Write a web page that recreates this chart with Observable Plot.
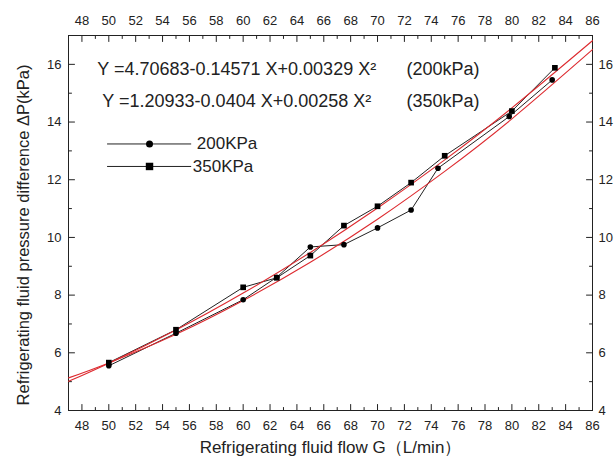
<!DOCTYPE html>
<html><head><meta charset="utf-8">
<script src="https://cdn.jsdelivr.net/npm/d3@7"></script>
<script src="https://cdn.jsdelivr.net/npm/@observablehq/plot@0.6"></script>
<style>
body{margin:0;background:#fff;}
#chart{font-family:"Liberation Sans",Arial,sans-serif;color:#222;}
</style></head><body><div id="chart"></div>
<script>
// ---- data ----
const seriesNames = ["200KPa", "350KPa"];
const flow200 = [50, 55, 60, 62.5, 65, 67.5, 70, 72.5, 74.5, 79.8, 83];
const dp200   = [5.55, 6.68, 7.84, 8.62, 9.67, 9.75, 10.33, 10.95, 12.4, 14.19, 15.46];
const flow350 = [50, 55, 60, 62.5, 65, 67.5, 70, 72.5, 75, 80, 83.2];
const dp350   = [5.66, 6.8, 8.27, 8.6, 9.37, 10.41, 11.08, 11.9, 12.83, 14.38, 15.88];
const fitFlow = [47, 50, 55, 60, 65, 70, 75, 80, 86];
const fit200  = [5.13, 5.65, 6.64, 7.81, 9.14, 10.63, 12.29, 14.11, 16.51];
const fit350  = [5.01, 5.64, 6.79, 8.07, 9.48, 11.02, 12.69, 14.49, 16.82];
const xMajor = [48, 50, 52, 54, 56, 58, 60, 62, 64, 66, 68, 70, 72, 74, 76, 78, 80, 82, 84, 86];
const xMinor = [49, 51, 53, 55, 57, 59, 61, 63, 65, 67, 69, 71, 73, 75, 77, 79, 81, 83, 85];
const yMajor = [4, 6, 8, 10, 12, 14, 16];
const yMinor = [5, 7, 9, 11, 13, 15];
const equations = ["Y =4.70683-0.14571 X+0.00329 X²", "Y =1.20933-0.0404 X+0.00258 X²"];
const eqTags = ["(200kPa)", "(350kPa)"];
const xTitle = "Refrigerating fluid flow G（L/min）";
const yTitle = "Refrigerating fluid pressure difference ΔP(kPa)";

// ---- layout (positions in chart units) ----
const eqPos = [{x: 49.14, y: 15.82}, {x: 49.52, y: 14.72}];
const tagX = 72.15;
const legendPos = {x1: 49.9, xm: 53.03, x2: 56.1, xt: [56.55, 56.25], y: [13.24, 12.46]};

const zip = (xs, ys) => xs.map((x, i) => ({x, y: ys[i]}));
const pts200 = zip(flow200, dp200);
const pts350 = zip(flow350, dp350);
const curve200 = zip(fitFlow, fit200);
const curve350 = zip(fitFlow, fit350);

const ink = "#222";
const red = "#dd2a2f";
const tickShape = {draw(ctx, l) { ctx.moveTo(0, 0); ctx.lineTo(0, -l); }};
function ticks(values, dim, side, len) {
  const rot = {bottom: 0, top: 180, left: 90, right: -90}[side];
  return Plot.vector(values, {[dim]: d => d, frameAnchor: side, length: len, rotate: rot,
    anchor: "start", shape: tickShape, stroke: ink, strokeWidth: 1});
}

const eqData = equations.map((t, i) => ({x: eqPos[i].x, y: eqPos[i].y, text: t}));
const tagData = eqTags.map((t, i) => ({x: tagX, y: eqPos[i].y, text: t}));
const legLines = seriesNames.map((s, i) => [{x: legendPos.x1, y: legendPos.y[i]}, {x: legendPos.x2, y: legendPos.y[i]}]);
const legText = seriesNames.map((s, i) => ({x: legendPos.xt[i], y: legendPos.y[i], text: s}));

const chart = Plot.plot({
  width: 616, height: 464,
  marginLeft: 68, marginRight: 24, marginTop: 35, marginBottom: 54,
  x: {domain: [47, 86]},
  y: {domain: [4, 17]},
  style: {fontFamily: '"Liberation Sans",Arial,sans-serif', color: ink, background: "#fff"},
  marks: [
    Plot.axisX(xMajor, {anchor: "bottom", tickSize: 0, tickPadding: 10, fontSize: 13, label: null}),
    Plot.axisX(xMajor, {anchor: "top", tickSize: 0, tickPadding: 11, fontSize: 13, label: null}),
    Plot.axisY(yMajor, {anchor: "left", tickSize: 0, tickPadding: 7, fontSize: 13, label: null}),
    Plot.axisY(yMajor, {anchor: "right", tickSize: 0, tickPadding: 6, fontSize: 13, label: null}),
    ticks(xMajor, "x", "bottom", 6), ticks(xMinor, "x", "bottom", 3),
    ticks(xMajor, "x", "top", 6), ticks(xMinor, "x", "top", 3),
    ticks(yMajor, "y", "left", 6), ticks(yMinor, "y", "left", 3),
    ticks(yMajor, "y", "right", 6), ticks(yMinor, "y", "right", 3),
    Plot.frame({stroke: ink, strokeWidth: 1}),
    Plot.line(pts200, {x: "x", y: "y", stroke: ink, strokeWidth: 1}),
    Plot.line(pts350, {x: "x", y: "y", stroke: ink, strokeWidth: 1}),
    Plot.line(curve200, {x: "x", y: "y", stroke: red, strokeWidth: 1.1, curve: "natural"}),
    Plot.line(curve350, {x: "x", y: "y", stroke: red, strokeWidth: 1.1, curve: "natural"}),
    Plot.dot(pts200, {x: "x", y: "y", r: 2.8, fill: "#000", symbol: "circle"}),
    Plot.dot(pts350, {x: "x", y: "y", r: 3.2, fill: "#000", symbol: "square"}),
    Plot.text(eqData, {x: "x", y: "y", text: "text", textAnchor: "start", fontSize: 18, fill: ink}),
    Plot.text(tagData, {x: "x", y: "y", text: "text", textAnchor: "start", fontSize: 18, fill: ink}),
    Plot.line(legLines[0], {x: "x", y: "y", stroke: ink, strokeWidth: 1}),
    Plot.line(legLines[1], {x: "x", y: "y", stroke: ink, strokeWidth: 1}),
    Plot.dot([{x: legendPos.xm, y: legendPos.y[0]}], {x: "x", y: "y", r: 3.5, fill: "#000", symbol: "circle"}),
    Plot.dot([{x: legendPos.xm, y: legendPos.y[1]}], {x: "x", y: "y", r: 4.2, fill: "#000", symbol: "square"}),
    Plot.text(legText, {x: "x", y: "y", text: "text", textAnchor: "start", fontSize: 17, fill: ink}),
    Plot.text([xTitle], {frameAnchor: "bottom", textAnchor: "middle", lineAnchor: "middle", dy: 37, text: d => d, fontSize: 17, fill: ink}),
    Plot.text([yTitle], {frameAnchor: "left", textAnchor: "middle", lineAnchor: "middle", dx: -45, dy: 12, rotate: -90, text: d => d, fontSize: 16.5, fill: ink})
  ]
});
document.getElementById("chart").append(chart);
</script>
</body></html>
